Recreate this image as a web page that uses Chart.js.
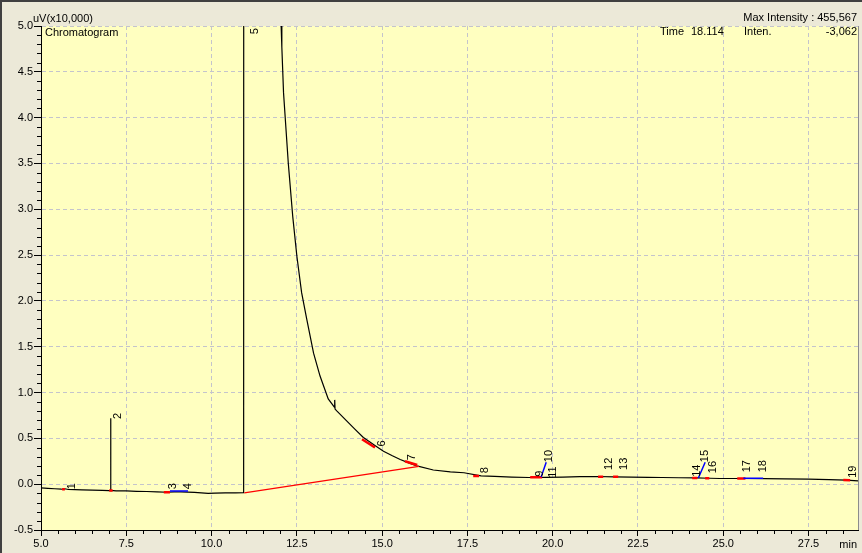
<!DOCTYPE html>
<html>
<head>
<meta charset="utf-8">
<script src="https://cdn.jsdelivr.net/npm/chart.js@4.4.1/dist/chart.umd.min.js"></script>
<style>
  html, body { margin: 0; padding: 0; background: #ECE9D8; }
  #chart { display: block; }
</style>
</head>
<body>
<canvas id="chart" width="862" height="553"></canvas>
<script>
// retention time (min) and signal (uV x10,000)
const traceTime = [5.0, 5.2, 5.4, 5.6, 5.7, 5.8, 6.0, 6.2, 6.5, 6.8, 7.0, 7.03, 7.04, 7.05, 7.2, 7.5, 7.8, 8.1, 8.4, 8.7,
  8.9, 9.1, 9.3, 9.5, 9.7, 9.9, 10.1, 10.4, 10.7, 10.94, 10.96, 11.5, 12.0, 12.04, 12.06, 12.11, 12.25, 12.38, 12.5, 12.64,
  12.79, 12.99, 13.18, 13.42, 13.6, 13.61, 13.62, 13.67, 13.96, 14.2, 14.45, 14.6, 14.8, 15.04, 15.3, 15.53, 15.8, 16.02, 16.5, 17.0,
  17.4, 17.9, 18.3, 18.8, 19.3, 19.8, 20.3, 20.8, 21.3, 21.8, 22.3, 22.8, 23.2, 23.7, 24.2, 24.6, 24.9, 25.5, 26.2, 26.8,
  27.5, 28.1, 28.6, 28.95];
const traceSignal = [-0.04, -0.045, -0.05, -0.055, -0.05, -0.058, -0.06, -0.062, -0.065, -0.068, -0.07, -0.07, 0.72, -0.068, -0.072, -0.074, -0.078, -0.08, -0.084, -0.088,
  -0.085, -0.083, -0.086, -0.09, -0.095, -0.1, -0.098, -0.095, -0.094, -0.093, 45.56, 14.0, 5.4, 5.0, 4.77, 4.27, 3.5, 2.92, 2.49, 2.09,
  1.80, 1.43, 1.18, 0.93, 0.84, 0.92, 0.82, 0.80, 0.69, 0.6, 0.51, 0.47, 0.42, 0.36, 0.31, 0.27, 0.23, 0.20, 0.155, 0.135,
  0.125, 0.09, 0.085, 0.078, 0.073, 0.075, 0.078, 0.082, 0.084, 0.08, 0.078, 0.075, 0.073, 0.07, 0.068, 0.065, 0.062, 0.062, 0.06, 0.058,
  0.055, 0.05, 0.045, 0.036];

// drawn baseline under peak 5
const baselineTime = [10.96, 16.08];
const baselineSignal = [-0.095, 0.195];

// red peak start/end marks
const redStart = [5.62, 7.0, 8.6, 14.41, 15.67, 17.67, 19.34, 21.33, 21.77, 24.09, 24.47, 25.41, 28.52];
const redEnd = [5.70, 7.1, 8.78, 14.79, 16.03, 17.84, 19.69, 21.48, 21.92, 24.24, 24.59, 25.65, 28.72];
const redStartSignal = [-0.056, -0.07, -0.088, 0.49, 0.25, 0.09, 0.075, 0.082, 0.08, 0.068, 0.066, 0.061, 0.045];
const redEndSignal = [-0.056, -0.07, -0.088, 0.40, 0.21, 0.09, 0.075, 0.082, 0.08, 0.068, 0.066, 0.061, 0.042];

// blue drop lines
const blueStart = [8.78, 19.66, 24.27, 25.59];
const blueEnd = [9.31, 19.81, 24.47, 26.17];
const blueStartSignal = [-0.075, 0.077, 0.068, 0.065];
const blueEndSignal = [-0.075, 0.24, 0.24, 0.065];

// peak numbers
const peakNames = ['1', '2', '3', '4', '5', '6', '7', '8', '9', '10', '11', '12', '13', '14', '15', '16', '17', '18', '19'];
const peakLabelTime = [5.9, 7.25, 8.87, 9.31, 11.28, 15.0, 15.88, 18.02, 19.63, 19.9, 20.01, 21.66, 22.1, 24.24, 24.47, 24.71, 25.7, 26.17, 28.81];
const peakLabelSignal = [-0.055, 0.71, -0.055, -0.055, 4.91, 0.41, 0.26, 0.12, 0.08, 0.24, 0.07, 0.155, 0.155, 0.08, 0.24, 0.12, 0.13, 0.13, 0.07];

const FONT = "'Liberation Sans', Arial, sans-serif";

function segments(x0, x1, y0, y1) {
    const pts = [];
    for (let i = 0; i < x0.length; i++) {
        pts.push({x: x0[i], y: y0[i]}, {x: x1[i], y: y1[i]}, {x: x1[i], y: null});
    }
    return pts;
}

const chromaPlugin = {
    id: 'chroma',
    beforeDraw(chart) {
        const {ctx, chartArea: a} = chart;
        ctx.save();
        ctx.fillStyle = '#ECE9D8';
        ctx.fillRect(0, 0, chart.width, chart.height);
        ctx.fillStyle = '#FFFFC0';
        ctx.fillRect(a.left, a.top, a.right - a.left, a.bottom - a.top);
        ctx.restore();
    },
    afterDatasetsDraw(chart) {
        const {ctx} = chart;
        const xs = chart.scales.x, ys = chart.scales.y;
        ctx.save();
        ctx.fillStyle = '#000';
        ctx.font = '11px ' + FONT;
        ctx.textAlign = 'left';
        ctx.textBaseline = 'middle';
        peakNames.forEach((name, i) => {
            ctx.save();
            ctx.translate(xs.getPixelForValue(peakLabelTime[i]), ys.getPixelForValue(peakLabelSignal[i]));
            ctx.rotate(-Math.PI / 2);
            ctx.fillText(name, 0, 0);
            ctx.restore();
        });
        ctx.restore();
    },
    afterDraw(chart) {
        const {ctx, chartArea: a} = chart;
        const xs = chart.scales.x, ys = chart.scales.y;
        ctx.save();
        // minor ticks
        ctx.strokeStyle = '#000';
        ctx.lineWidth = 1;
        ctx.beginPath();
        for (let k = -5; k <= 50; k++) {
            if (k % 5 === 0) continue;
            const py = Math.round(ys.getPixelForValue(k / 10)) + 0.5;
            ctx.moveTo(a.left - 4, py);
            ctx.lineTo(a.left, py);
        }
        for (let k = 11; k <= 57; k++) {
            if (k % 5 === 0) continue;
            const px = Math.round(xs.getPixelForValue(k / 2)) + 0.5;
            ctx.moveTo(px, a.bottom);
            ctx.lineTo(px, a.bottom + 4);
        }
        ctx.stroke();
        // right edge of plot
        ctx.strokeStyle = '#8C8C8C';
        ctx.beginPath();
        ctx.moveTo(a.right + 0.5, a.top);
        ctx.lineTo(a.right + 0.5, a.bottom);
        ctx.stroke();
        // outer frame (top and left)
        ctx.fillStyle = '#404040';
        ctx.fillRect(0, 0, chart.width, 2);
        ctx.fillRect(0, 0, 2, chart.height);

        ctx.fillStyle = '#000';
        ctx.font = '11px ' + FONT;
        ctx.textBaseline = 'alphabetic';
        ctx.textAlign = 'left';
        ctx.fillText('uV(x10,000)', 33, 22);
        ctx.fillText('Chromatogram', 45, 36);
        ctx.fillText('Time', 660, 35);
        ctx.fillText('18.114', 691, 35);
        ctx.fillText('Inten.', 744, 35);
        ctx.textAlign = 'right';
        ctx.fillText('Max Intensity : 455,567', 857, 21);
        ctx.fillText('-3,062', 857, 35);
        ctx.textBaseline = 'middle';
        ctx.fillText('min', 857, 545);
        ctx.restore();
    }
};

Chart.defaults.font.family = FONT;
Chart.defaults.font.size = 11;
Chart.defaults.color = '#000';

const ctx = document.getElementById('chart').getContext('2d');
new Chart(ctx, {
    type: 'line',
    data: {
        datasets: [
            {
                data: traceTime.map((t, i) => ({x: t, y: traceSignal[i]})),
                borderColor: '#000',
                borderWidth: 1.2,
                pointRadius: 0,
                tension: 0,
                order: 10
            },
            {
                data: baselineTime.map((t, i) => ({x: t, y: baselineSignal[i]})),
                borderColor: '#FF0000',
                borderWidth: 1.2,
                pointRadius: 0,
                order: 3
            },
            {
                data: segments(redStart, redEnd, redStartSignal, redEndSignal),
                borderColor: '#FF0000',
                borderWidth: 2.5,
                pointRadius: 0,
                spanGaps: false,
                order: 2
            },
            {
                data: segments(blueStart, blueEnd, blueStartSignal, blueEndSignal),
                borderColor: '#0000FF',
                borderWidth: 1.5,
                pointRadius: 0,
                spanGaps: false,
                order: 1
            }
        ]
    },
    options: {
        responsive: false,
        animation: false,
        layout: { padding: { left: 0, top: 26, right: 4, bottom: 0 } },
        plugins: {
            legend: { display: false },
            tooltip: { enabled: false }
        },
        scales: {
            x: {
                type: 'linear',
                min: 5.0,
                max: 28.95,
                afterFit: s => { s.height = 23; },
                ticks: {
                    stepSize: 2.5,
                    includeBounds: false,
                    maxRotation: 0,
                    padding: 1,
                    callback: v => v.toFixed(1)
                },
                grid: {
                    color: '#C4C4CC',
                    tickColor: '#000',
                    tickLength: 6
                },
                border: { color: '#000', width: 1, dash: [4, 3] }
            },
            y: {
                type: 'linear',
                min: -0.5,
                max: 5.0,
                afterFit: s => { s.width = 41; },
                ticks: {
                    stepSize: 0.5,
                    padding: 1,
                    callback: v => v.toFixed(1)
                },
                grid: {
                    color: '#C4C4CC',
                    tickColor: '#000',
                    tickLength: 7
                },
                border: { color: '#000', width: 1, dash: [4, 3] }
            }
        }
    },
    plugins: [chromaPlugin]
});
</script>
</body>
</html>
